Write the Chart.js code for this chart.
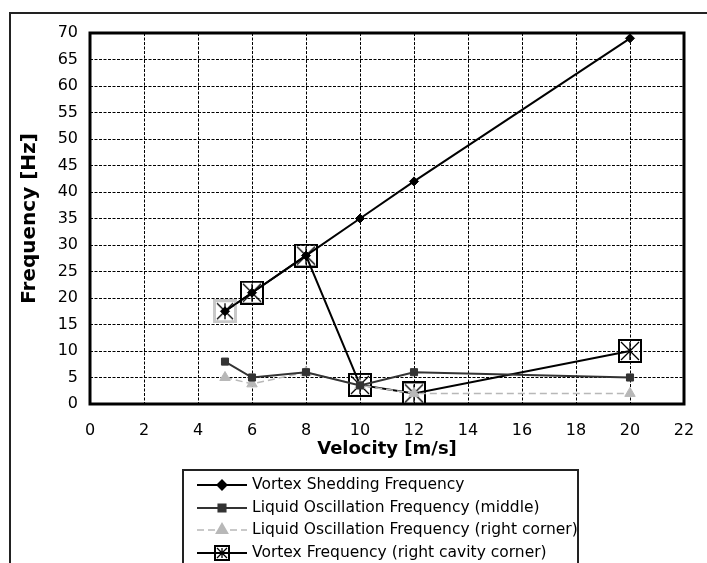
<!DOCTYPE html>
<html>
<head>
<meta charset="utf-8">
<script src="https://cdn.jsdelivr.net/npm/chart.js@4.4.1/dist/chart.umd.min.js"></script>
<style>
  html, body { margin: 0; padding: 0; background: #fff; }
  #wrap { width: 707px; height: 563px; }
</style>
</head>
<body>
<div id="wrap"><canvas id="freqChart" width="707" height="563"></canvas></div>
<script>
// values
const velocity = [5, 6, 8, 10, 12, 20];
const vortexShedding = [17.5, 21, 28, 35, 42, 69];
const liquidMiddle = [8, 5, 6, 3.5, 6, 5];
const liquidCorner = [5, 3.8, 6, 3.5, 2, 2];
const vortexCavity = [17.5, 21, 28, 3.6, 2, 10];

const seriesNames = [
  "Vortex Shedding Frequency",
  "Liquid Oscillation Frequency (middle)",
  "Liquid Oscillation Frequency (right corner)",
  "Vortex Frequency (right cavity corner)"
];

const xTicks = [0, 2, 4, 6, 8, 10, 12, 14, 16, 18, 20, 22];
const yTicks = [0, 5, 10, 15, 20, 25, 30, 35, 40, 45, 50, 55, 60, 65, 70];

const FONT = "'DejaVu Sans', 'Liberation Sans', Arial, sans-serif";

// boxed asterisk marker used for the cavity-corner series
function boxMarker(size, boxColor, boxWidth) {
  const c = document.createElement("canvas");
  c.width = size;
  c.height = size;
  const g = c.getContext("2d");
  g.strokeStyle = boxColor;
  g.lineWidth = boxWidth;
  g.strokeRect(boxWidth / 2, boxWidth / 2, size - boxWidth, size - boxWidth);
  g.strokeStyle = "#000";
  g.lineWidth = 1.3;
  const p = boxWidth + 1;
  g.beginPath();
  g.moveTo(p, p); g.lineTo(size - p, size - p);
  g.moveTo(size - p, p); g.lineTo(p, size - p);
  g.moveTo(size / 2, p); g.lineTo(size / 2, size - p);
  g.stroke();
  return c;
}

const boxBlack = boxMarker(24, "#000", 2);
const boxGrey = boxMarker(24, "#c8c8c8", 3);
const boxLegend = boxMarker(16, "#000", 2);

function toPoints(ys) {
  return velocity.map((v, i) => ({ x: v, y: ys[i] }));
}

// plot frame, outer frame and the boxed legend
const framePlugin = {
  id: "frames",
  beforeDraw(chart) {
    const ctx = chart.ctx;
    ctx.save();
    ctx.fillStyle = "#fff";
    ctx.fillRect(0, 0, chart.width, chart.height);
    ctx.strokeStyle = "#222";
    ctx.lineWidth = 2;
    ctx.strokeRect(10, 13, chart.width + 20, chart.height + 20);
    ctx.restore();
  },
  beforeDatasetsDraw(chart) {
    const { ctx, chartArea: a } = chart;
    ctx.save();
    ctx.strokeStyle = "#000";
    ctx.lineWidth = 3;
    ctx.strokeRect(a.left, a.top, a.right - a.left, a.bottom - a.top);
    ctx.restore();
  },
  afterDraw(chart) {
    const ctx = chart.ctx;
    ctx.save();
    ctx.strokeStyle = "#222";
    ctx.lineWidth = 2;
    ctx.strokeRect(183, 470, 395, 200);
    const rows = [485, 508, 530, 553];
    chart.data.datasets.forEach((ds, i) => {
      const y = rows[i];
      ctx.save();
      ctx.strokeStyle = ds.borderColor;
      ctx.lineWidth = ds.borderWidth;
      ctx.setLineDash(ds.borderDash || []);
      ctx.beginPath();
      ctx.moveTo(197, y);
      ctx.lineTo(247, y);
      ctx.stroke();
      ctx.restore();
      ctx.save();
      ctx.fillStyle = ds.pointBackgroundColor;
      ctx.strokeStyle = ds.pointBorderColor;
      Chart.helpers.drawPoint(ctx, {
        pointStyle: i === 3 ? boxLegend : ds.pointStyle,
        radius: ds.legendRadius,
        borderWidth: 1,
        rotation: 0
      }, 222, y);
      ctx.restore();
      ctx.fillStyle = "#000";
      ctx.font = "15.5px " + FONT;
      ctx.textBaseline = "middle";
      ctx.textAlign = "left";
      ctx.fillText(ds.label, 252, y);
    });
    ctx.restore();
  }
};

const ctx = document.getElementById("freqChart");
new Chart(ctx, {
  type: "line",
  data: {
    datasets: [
      {
        label: seriesNames[0],
        data: toPoints(vortexShedding),
        borderColor: "#000",
        borderWidth: 2,
        pointStyle: "rectRot",
        pointRadius: 4.5,
        legendRadius: 4.5,
        pointBackgroundColor: "#000",
        pointBorderColor: "#000",
        pointBorderWidth: 1
      },
      {
        label: seriesNames[1],
        data: toPoints(liquidMiddle),
        borderColor: "#333",
        borderWidth: 2,
        pointStyle: "rect",
        pointRadius: 5,
        legendRadius: 5,
        pointBackgroundColor: "#333",
        pointBorderColor: "#333",
        pointBorderWidth: 1
      },
      {
        label: seriesNames[2],
        data: toPoints(liquidCorner),
        borderColor: "#b8b8b8",
        borderWidth: 1.5,
        borderDash: [7, 4],
        pointStyle: "triangle",
        pointRadius: 6,
        legendRadius: 6,
        pointBackgroundColor: "#b8b8b8",
        pointBorderColor: "#b8b8b8",
        pointBorderWidth: 1
      },
      {
        label: seriesNames[3],
        data: toPoints(vortexCavity),
        borderColor: "#000",
        borderWidth: 2,
        pointStyle: velocity.map((v, i) => (i === 0 ? boxGrey : boxBlack)),
        pointRadius: 12,
        legendRadius: 8,
        pointBackgroundColor: "rgba(0,0,0,0)",
        pointBorderColor: "#000"
      }
    ]
  },
  options: {
    responsive: false,
    animation: false,
    devicePixelRatio: 1,
    layout: { padding: { left: 12, top: 33, right: 23, bottom: 99 } },
    plugins: {
      legend: { display: false },
      tooltip: { enabled: false }
    },
    scales: {
      x: {
        type: "linear",
        min: 0,
        max: 22,
        afterBuildTicks: (s) => { s.ticks = xTicks.map((v) => ({ value: v })); },
        afterFit: (s) => { s.height = 60; s.paddingLeft = 0; s.paddingRight = 0; },
        grid: { color: "#000", lineWidth: 1, drawTicks: false },
        border: { display: false, dash: [3, 1.5] },
        ticks: { color: "#000", padding: 17, font: { family: FONT, size: 16 } },
        title: {
          display: true,
          text: "Velocity [m/s]",
          color: "#000",
          font: { family: FONT, size: 18, weight: "bold" },
          padding: { top: 0, bottom: 4 }
        }
      },
      y: {
        min: 0,
        max: 70,
        afterBuildTicks: (s) => { s.ticks = yTicks.map((v) => ({ value: v })); },
        afterFit: (s) => { s.width = 78; s.paddingTop = 0; s.paddingBottom = 0; },
        grid: { color: "#000", lineWidth: 1, drawTicks: false },
        border: { display: false, dash: [3, 1.5] },
        ticks: { color: "#000", padding: 12, font: { family: FONT, size: 16 } },
        title: {
          display: true,
          text: "Frequency [Hz]",
          color: "#000",
          font: { family: FONT, size: 20, weight: "bold" },
          padding: { top: 6, bottom: 0 }
        }
      }
    }
  },
  plugins: [framePlugin]
});
</script>
</body>
</html>
